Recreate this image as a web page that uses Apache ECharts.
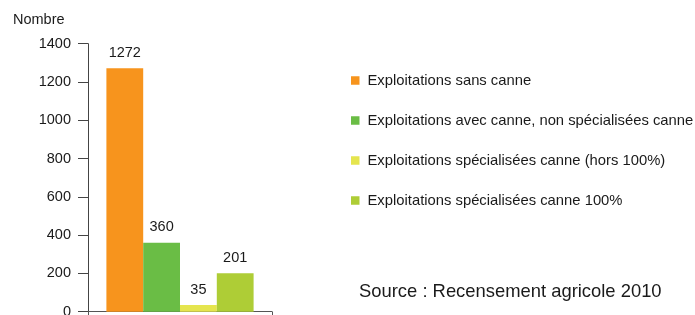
<!DOCTYPE html>
<html><head><meta charset="utf-8">
<script src="https://cdn.jsdelivr.net/npm/echarts@6/dist/echarts.min.js"></script>
<style>html,body{margin:0;padding:0;background:#fff}#c{width:695px;height:315px}</style>
</head><body><div id="c"></div>
<script>
const categories = [''];
const seriesNames = [
  'Exploitations sans canne',
  'Exploitations avec canne, non spécialisées canne',
  'Exploitations spécialisées canne (hors 100%)',
  'Exploitations spécialisées canne 100%'
];
const seriesValues = [1272, 360, 35, 201];
const seriesColors = ['#F7941D', '#6ABD45', '#E5E54E', '#AECD36'];
const yTicks = [0, 200, 400, 600, 800, 1000, 1200, 1400];

const font = 'Liberation Sans, Arial, sans-serif';
const chart = echarts.init(document.getElementById('c'));
chart.setOption({
  animation: false,
  textStyle: {fontFamily: font},
  grid: {left: 88, top: 43.7, width: 184, bottom: 3.3, containLabel: false, outerBoundsMode: 'none'},
  legend: {
    orient: 'vertical', left: 351, top: 72.5, padding: 0, itemWidth: 8.5, itemHeight: 8.5,
    itemGap: 24, icon: 'rect',
    textStyle: {fontSize: 14.8, color: '#1a1a1a', fontFamily: font, lineHeight: 16, padding: [0,0,0,3]},
    data: seriesNames
  },
  xAxis: {
    type: 'category', data: categories,
    axisLine: {lineStyle: {color: '#555', width: 1}},
    axisTick: {show: true, length: 5, lineStyle: {color: '#555'}},
    axisLabel: {show: false}
  },
  yAxis: {
    type: 'value', min: yTicks[0], max: yTicks[yTicks.length-1], interval: 200,
    axisLine: {show: true, lineStyle: {color: '#444'}},
    axisTick: {show: true, length: 10, lineStyle: {color: '#444'}},
    axisLabel: {fontSize: 14.5, color: '#1a1a1a', margin: 17, formatter: v => String(v)},
    splitLine: {show: false}
  },
  series: seriesNames.map((n, i) => ({
    name: n, type: 'bar', data: [seriesValues[i]],
    barGap: '0%', barCategoryGap: '20%',
    itemStyle: {color: seriesColors[i]},
    label: {show: true, position: 'top', distance: 8, fontSize: 14.5, color: '#1a1a1a'}
  })),
  graphic: [{
    type: 'text', left: 13, top: 12,
    style: {text: 'Nombre', fontSize: 14.5, fill: '#1a1a1a', fontFamily: font}
  }, {
    type: 'text', left: 359, top: 283,
    style: {text: 'Source : Recensement agricole 2010', fontSize: 18.4, fill: '#1a1a1a', fontFamily: font}
  }]
});
</script></body></html>
